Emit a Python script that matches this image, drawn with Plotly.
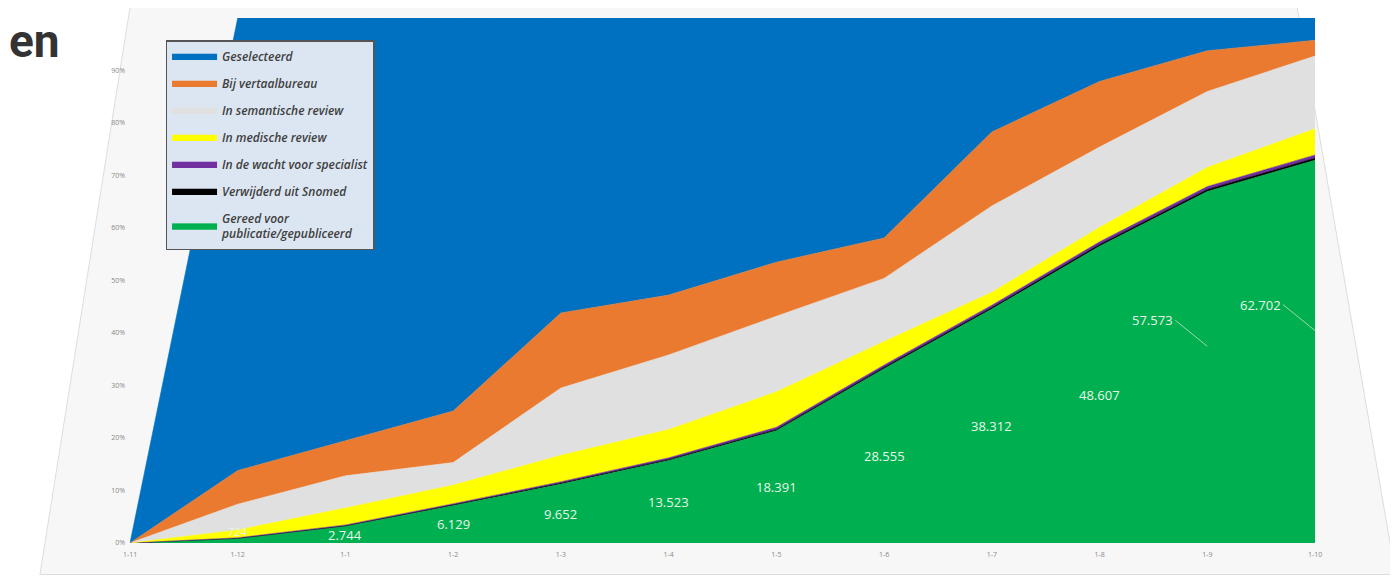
import plotly.graph_objects as go

# Categories (x axis)
categories = ["1-11", "1-12", "1-1", "1-2", "1-3", "1-4", "1-5", "1-6", "1-7", "1-8", "1-9", "1-10"]

# Share of each status (percent of total)
gereed = [0, 0.84, 3.19, 7.13, 11.22, 15.72, 21.39, 33.20, 44.55, 56.52, 66.95, 72.91]
verwijderd = [0, 0.05, 0.1, 0.15, 0.2, 0.2, 0.25, 0.3, 0.3, 0.35, 0.4, 0.4]
wacht = [0, 0.1, 0.15, 0.2, 0.25, 0.3, 0.4, 0.4, 0.45, 0.5, 0.55, 0.6]
medisch = [0, 1.5, 3.25, 3.55, 5.05, 5.4, 6.75, 4.5, 2.45, 2.75, 3.65, 5.0]
semantisch = [0, 4.9, 6.1, 4.3, 12.8, 14.2, 14.4, 12.0, 16.45, 15.3, 14.45, 13.85]
vertaal = [0, 6.4, 6.7, 9.8, 14.3, 11.4, 10.3, 7.7, 14.1, 12.5, 7.75, 3.0]
geselecteerd = [0, 86.2, 80.5, 74.9, 56.2, 52.8, 46.5, 41.9, 21.7, 12.1, 6.25, 4.25]

# Data labels of the green series (counts)
gereed_labels = ["", "724", "2.744", "6.129", "9.652", "13.523", "18.391", "28.555",
                 "38.312", "48.607", "57.573", "62.702"]

# y-axis ticks
y_ticks = [0, 10, 20, 30, 40, 50, 60, 70, 80, 90]
y_ticktext = ["0%", "10%", "20%", "30%", "40%", "50%", "60%", "70%", "80%", "90%"]

series = [
    ("Gereed voor<br>publicatie/gepubliceerd", gereed, "#00B050"),
    ("Verwijderd uit Snomed", verwijderd, "#000000"),
    ("In de wacht voor specialist", wacht, "#7030A0"),
    ("In medische review", medisch, "#FFFF00"),
    ("In semantische review", semantisch, "#E1E0E1"),
    ("Bij vertaalbureau", vertaal, "#E97A2F"),
    ("Geselecteerd", geselecteerd, "#0070C0"),
]

fig = go.Figure()
for i, (name, vals, col) in enumerate(series):
    fig.add_trace(go.Scatter(
        x=categories, y=vals, name=name, mode="lines",
        stackgroup="one", fillcolor=col,
        line=dict(width=0.6, color=col),
        legendgroup=f"g{i}", legendrank=100 - i, hoverinfo="skip",
    ))

label_font = dict(family="Open Sans, Liberation Sans", size=13, color="#E8F4EA")
annotations = []
for i, (c, v, t) in enumerate(zip(categories, gereed, gereed_labels)):
    if not t:
        continue
    if i >= len(categories) - 2:
        annotations.append(dict(
            x=c, y=v / 2 + 4, xref="x", yref="y", text=t,
            showarrow=True, arrowhead=0, arrowwidth=1, arrowcolor="#9fd8b0",
            ax=-32, ay=-26, xanchor="right", font=label_font,
        ))
    elif i == 1:
        annotations.append(dict(
            x=c, y=v / 2, xref="x", yref="y", text=t, showarrow=False,
            yshift=9, font=dict(label_font, size=11),
        ))
    else:
        annotations.append(dict(
            x=c, y=v / 2, xref="x", yref="y", text=t, showarrow=False,
            font=label_font,
        ))

# partially visible page title at top-left
annotations.append(dict(
    x=-0.104, y=1.0, xref="paper", yref="paper", text="<b>en</b>",
    showarrow=False, xanchor="left", yanchor="top", yshift=6,
    font=dict(family="Roboto, Liberation Sans", size=46, color="#333333"),
))

fig.update_layout(
    width=1398, height=576,
    margin=dict(l=122, r=91, t=10, b=41),
    paper_bgcolor="white",
    plot_bgcolor="white",
    showlegend=True,
    legend=dict(
        x=0.03, y=0.958, xanchor="left", yanchor="top",
        bgcolor="#DCE6F2", bordercolor="#555555", borderwidth=1.5,
        traceorder="grouped", tracegroupgap=8,
        font=dict(family="Open Sans, Liberation Sans", size=12, color="#404040",
                  style="italic", weight=600),
        itemwidth=45,
    ),
    xaxis=dict(
        type="category", range=[0, len(categories) - 1],
        showgrid=False, zeroline=False, showline=False,
        tickfont=dict(size=7, color="#888888"), ticks="",
        ticklabelstandoff=6,
    ),
    yaxis=dict(
        range=[0, 100], tickvals=y_ticks, ticktext=y_ticktext,
        showgrid=False, zeroline=False, showline=False,
        tickfont=dict(size=7, color="#888888"), ticks="",
        ticklabelstandoff=4,
    ),
    annotations=annotations,
    shapes=[
        dict(type="path", xref="paper", yref="paper", layer="below",
             path="M -0.076,-0.06 L 0.0,1.02 L 0.985,1.02 L 1.068,-0.06 Z",
             fillcolor="#F7F7F7", line=dict(color="#DDDDDD", width=1)),
    ],
)

fig.write_html("out.html")
